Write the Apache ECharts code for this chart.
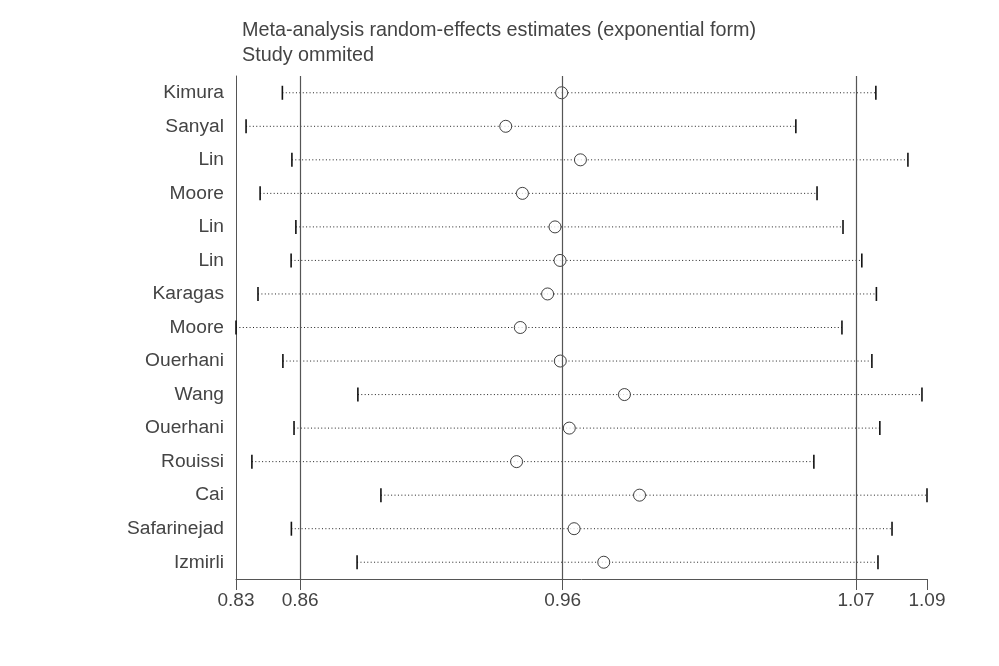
<!DOCTYPE html>
<html>
<head>
<meta charset="utf-8">
<script src="https://cdn.jsdelivr.net/npm/echarts@6/dist/echarts.min.js"></script>
<style>
html,body{margin:0;padding:0;background:#fff;}
#chart{width:999px;height:666px;}
</style>
</head>
<body>
<div id="chart"></div>
<script>
const studies = ['Kimura','Sanyal','Lin','Moore','Lin','Lin','Karagas','Moore','Ouerhani','Wang','Ouerhani','Rouissi','Cai','Safarinejad','Izmirli'];
const lowerCI  = [0.8512,0.8375,0.8548,0.8428,0.8563,0.8545,0.8420,0.8337,0.8514,0.8797,0.8556,0.8397,0.8884,0.8546,0.8794];
const estimate = [0.9566,0.9355,0.9637,0.9418,0.9541,0.9560,0.9513,0.9410,0.9561,0.9803,0.9595,0.9396,0.9860,0.9613,0.9725];
const upperCI  = [1.0752,1.0450,1.0873,1.0530,1.0628,1.0699,1.0754,1.0624,1.0737,1.0926,1.0767,1.0518,1.0945,1.0813,1.0760];
const tickValues = [0.8337,0.8579,0.9570,1.0677,1.0945];
const tickLabels = ['0.83','0.86','0.96','1.07','1.09'];
const refLines = [0.8579,0.9570,1.0677];
const titleLines = ['Meta-analysis random-effects estimates (exponential form)','Study ommited'];

const FONT = '"Liberation Sans", Arial, sans-serif';
const chart = echarts.init(document.getElementById('chart'), null, {renderer:'canvas'});

const ciData = studies.map((s,i)=>[lowerCI[i], upperCI[i], i]);
const estData = studies.map((s,i)=>[estimate[i], i]);

function labelFor(v){
  let best=0, bd=Infinity;
  tickValues.forEach((t,i)=>{const d=Math.abs(t-v); if(d<bd){bd=d;best=i;}});
  return tickLabels[best];
}

const option = {
  animation:false,
  backgroundColor:'#fff',
  title:{
    text: titleLines.join('\n'),
    left: 237, top: 13,
    textStyle:{fontFamily:FONT,fontSize:19.8,fontWeight:'normal',color:'#444',lineHeight:25}
  },
  grid:{left:236,right:72,top:76,bottom:87,containLabel:false},
  xAxis:{
    type:'value',
    min:tickValues[0], max:tickValues[tickValues.length-1],
    axisLine:{show:true,lineStyle:{color:'#555',width:1}},
    axisTick:{show:true,customValues:tickValues,length:11,lineStyle:{color:'#555',width:1}},
    axisLabel:{customValues:tickValues,formatter:v=>labelFor(v),fontFamily:FONT,fontSize:19,color:'#444',margin:12},
    splitLine:{show:false}
  },
  yAxis:{
    type:'category',
    data:studies,
    inverse:true,
    axisLine:{show:true,lineStyle:{color:'#555',width:1}},
    axisTick:{show:false},
    axisLabel:{fontFamily:FONT,fontSize:19.2,color:'#444',margin:12},
    splitLine:{show:false}
  },
  series:[
    {
      type:'custom',
      z:2,
      data:ciData,
      renderItem:function(params,api){
        const y = api.value(2);
        const p1 = api.coord([api.value(0), y]);
        const p2 = api.coord([api.value(1), y]);
        const h = 7;
        return {
          type:'group',
          children:[
            {type:'line',shape:{x1:p1[0],y1:p1[1],x2:p2[0],y2:p2[1]},style:{stroke:'#222',lineWidth:1,lineDash:[1,2.4]}},
            {type:'line',shape:{x1:p1[0],y1:p1[1]-h,x2:p1[0],y2:p1[1]+h},style:{stroke:'#111',lineWidth:1.6}},
            {type:'line',shape:{x1:p2[0],y1:p2[1]-h,x2:p2[0],y2:p2[1]+h},style:{stroke:'#111',lineWidth:1.6}}
          ]
        };
      }
    },
    {
      type:'scatter',
      z:3,
      data:estData,
      symbol:'circle',
      symbolSize:12,
      itemStyle:{color:'#fff',borderColor:'#111',borderWidth:1},
      emphasis:{disabled:true},
      markLine:{
        silent:true,
        precision:6,
        symbol:['none','none'],
        label:{show:false},
        lineStyle:{color:'#555',width:1.2,type:'solid'},
        z:5,
        data:refLines.map(v=>({xAxis:v}))
      }
    }
  ]
};
chart.setOption(option);
</script>
</body>
</html>
